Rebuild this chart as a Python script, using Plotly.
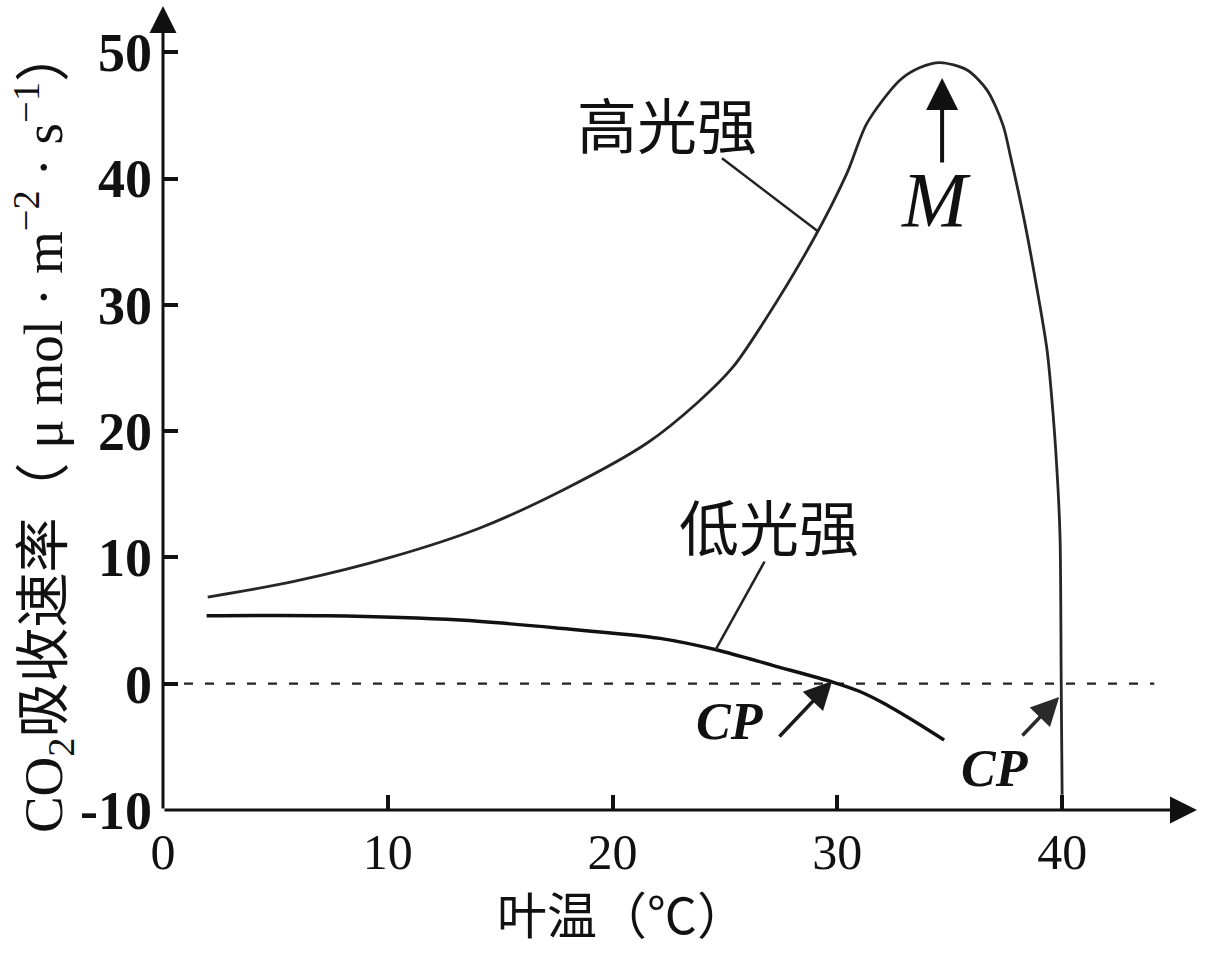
import plotly.graph_objects as go

# ---- data ----
high_x = [1.99, 5.78, 10.23, 14.10, 17.80, 21.54, 23.76, 25.36, 26.70, 28.92, 30.43, 31.32,
          32.79, 33.68, 34.57, 35.77, 36.66, 37.37, 37.69, 38.27, 38.89, 39.33, 39.60, 39.82,
          39.91, 39.96, 40.0]
high_y = [6.86, 8.08, 10.06, 12.33, 15.34, 19.06, 22.23, 25.08, 28.56, 35.13, 40.43, 44.39,
          47.8, 48.79, 49.18, 48.59, 47.0, 44.23, 41.85, 37.1, 31.18, 26.4, 21.28, 15.34,
          11.38, -0.1, -8.8]
low_x = [1.94, 7.28, 13.21, 17.66, 22.11, 24.65, 27.23, 29.79, 31.0, 32.04, 33.55, 34.75]
low_y = [5.38, 5.38, 5.04, 4.39, 3.59, 2.67, 1.40, 0.13, -0.62, -1.53, -3.11, -4.46]
x_ticks = [0, 10, 20, 30, 40]
y_ticks = [-10, 0, 10, 20, 30, 40, 50]
x_title = "叶温（℃）"
y_title = "CO<sub>2</sub>吸收速率（ μ mol · m<sup>−2</sup> · s<sup>−1</sup>）"
label_high = "高光强"
label_low = "低光强"

X_MAX, Y_MIN, Y_MAX = 46.0, -10, 53.66
SERIF = "Liberation Serif, Noto Sans CJK SC"
CJK = "Noto Sans CJK SC, Liberation Serif"

fig = go.Figure()
fig.add_trace(go.Scatter(x=[0, 44.1], y=[0, 0], mode="lines",
                         line=dict(color="#222", width=2.2, dash="9px,12px"), hoverinfo="skip"))
fig.add_trace(go.Scatter(x=high_x, y=high_y, mode="lines",
                         line=dict(color="#262626", width=2.8, shape="spline", smoothing=0.8)))
fig.add_trace(go.Scatter(x=low_x, y=low_y, mode="lines",
                         line=dict(color="#111", width=3.4, shape="spline", smoothing=0.8)))
# leader lines
fig.add_trace(go.Scatter(x=[24.87, 29.16], y=[41.6, 35.79], mode="lines",
                         line=dict(color="#222", width=2.5), hoverinfo="skip"))
fig.add_trace(go.Scatter(x=[26.76, 24.58], y=[9.66, 2.67], mode="lines",
                         line=dict(color="#222", width=2.5), hoverinfo="skip"))

ann = []
# axis arrows
ann.append(dict(x=X_MAX, y=Y_MIN, ax=0, ay=Y_MIN, xref="x", yref="y", axref="x", ayref="y",
                text="", showarrow=True, arrowhead=2, arrowsize=1.8, arrowwidth=3, arrowcolor="#111"))
ann.append(dict(x=0, y=Y_MAX, ax=0, ay=Y_MIN, xref="x", yref="y", axref="x", ayref="y",
                text="", showarrow=True, arrowhead=2, arrowsize=1.8, arrowwidth=3, arrowcolor="#111"))
# M arrow
ann.append(dict(x=34.66, y=47.96, ax=34.66, ay=41.15, xref="x", yref="y", axref="x", ayref="y",
                text="", showarrow=True, arrowhead=2, arrowsize=1.6, arrowwidth=4, arrowcolor="#111"))
# CP arrows
ann.append(dict(x=29.77, y=0.21, ax=27.36, ay=-4.3, xref="x", yref="y", axref="x", ayref="y",
                text="", showarrow=True, arrowhead=2, arrowsize=1.6, arrowwidth=3.5, arrowcolor="#1a1a1a"))
ann.append(dict(x=39.87, y=-1.05, ax=38.17, ay=-4.22, xref="x", yref="y", axref="x", ayref="y",
                text="", showarrow=True, arrowhead=2, arrowsize=1.6, arrowwidth=3.5, arrowcolor="#2a2a2a"))
# text labels
ann.append(dict(x=22.42, y=44.4, xref="x", yref="y", text=label_high, showarrow=False,
                xanchor="center", yanchor="middle",
                font=dict(family=CJK, size=60, color="#111")))
ann.append(dict(x=26.96, y=12.57, xref="x", yref="y", text=label_low, showarrow=False,
                xanchor="center", yanchor="middle",
                font=dict(family=CJK, size=60, color="#111")))
ann.append(dict(x=34.4, y=38.3, xref="x", yref="y", text="<i>M</i>", showarrow=False,
                xanchor="center", yanchor="middle",
                font=dict(family="Liberation Serif", size=78, color="#111")))
ann.append(dict(x=25.23, y=-3.03, xref="x", yref="y", text="<b><i>CP</i></b>", showarrow=False,
                xanchor="center", yanchor="middle",
                font=dict(family="Liberation Serif", size=52, color="#111")))
ann.append(dict(x=37.02, y=-6.75, xref="x", yref="y", text="<b><i>CP</i></b>", showarrow=False,
                xanchor="center", yanchor="middle",
                font=dict(family="Liberation Serif", size=52, color="#111")))
# axis titles
ann.append(dict(x=0.444, y=-0.127, xref="paper", yref="paper", text=x_title, showarrow=False,
                xanchor="center", yanchor="middle",
                font=dict(family=CJK, size=50, color="#111")))
ann.append(dict(x=-0.116, y=0.4726, xref="paper", yref="paper", text=y_title, showarrow=False,
                xanchor="center", yanchor="middle",
                textangle=-90, font=dict(family=SERIF, size=55, color="#111")))

fig.update_layout(
    template="none",
    width=1209, height=957,
    margin=dict(l=163, r=12, t=6, b=147, autoexpand=False),
    paper_bgcolor="white", plot_bgcolor="white",
    showlegend=False,
    annotations=ann,
    xaxis=dict(range=[0, X_MAX], tickvals=x_ticks, ticktext=[str(v) for v in x_ticks],
               showgrid=False, zeroline=False, showline=False, automargin=False,
               ticks="inside", ticklen=15, tickwidth=4, tickcolor="#111",
               ticklabelstandoff=8,
               tickfont=dict(family="Liberation Serif", size=50, color="#111")),
    yaxis=dict(range=[Y_MIN, Y_MAX], tickvals=y_ticks, ticktext=[str(v) for v in y_ticks],
               showgrid=False, zeroline=False, showline=False, automargin=False,
               ticks="inside", ticklen=15, tickwidth=4, tickcolor="#111",
               ticklabelstandoff=10,
               tickfont=dict(family="Liberation Serif", size=54, color="#111", weight="bold")),
)
fig.write_html("out.html", config={"displayModeBar": False},
               post_script="document.body.style.margin='0';")
